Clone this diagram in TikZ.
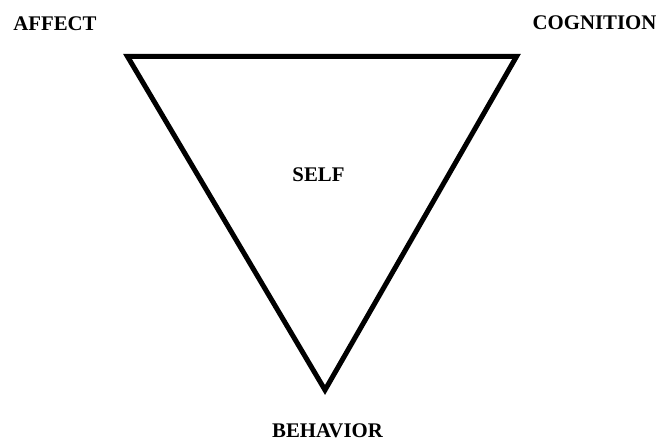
\documentclass[tikz,border=0pt]{standalone}
\usepackage{fontspec}
\setmainfont{Liberation Serif}
\usetikzlibrary{positioning}
\tikzset{
  x=1pt,y=1pt,
  every node/.style={inner sep=0pt},
  label/.style={font=\fontsize{20.8}{25}\selectfont\bfseries,anchor=base},
  edge/.style={line width=5pt,line join=miter,draw=black},
}
\begin{document}
\begin{tikzpicture}

\useasboundingbox (0,0) rectangle (661,441);

\coordinate (left) at (127.5,384.5);
\coordinate (right) at (516.5,384.5);
\coordinate (bottom) at (325,51);

\draw[edge] (left) -- (right) -- (bottom) -- cycle;

\node[label] (affect) at (55,410) {AFFECT};
\node[label] (cognition) at (594.5,411) {COGNITION};
\node[label] (self) at (318.5,259) {SELF};
\node[label] (behavior) at (327.5,3) {BEHAVIOR};

\end{tikzpicture}
\end{document}
